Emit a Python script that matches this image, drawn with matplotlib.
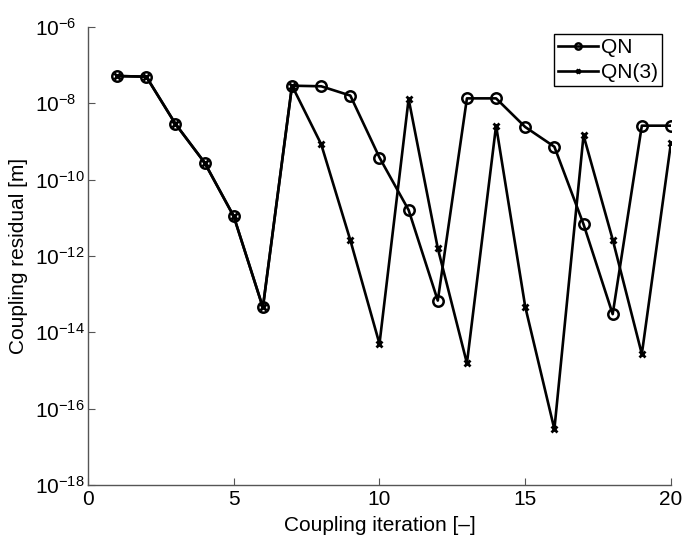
import matplotlib
matplotlib.use("Agg")
import matplotlib.pyplot as plt
from matplotlib.ticker import LogLocator, NullLocator

plt.rcParams['font.family'] = ['Liberation Sans', 'DejaVu Sans']
plt.rcParams['mathtext.fontset'] = 'custom'
plt.rcParams['mathtext.rm'] = 'Liberation Sans'

# coupling residual per iteration
iterations = list(range(1, 21))
res_qn = [5.2e-8, 5.0e-8, 2.9e-9, 2.8e-10, 1.1e-11, 4.5e-14, 2.9e-8, 2.8e-8,
          1.6e-8, 3.8e-10, 1.6e-11, 6.8e-14, 1.35e-8, 1.35e-8, 2.4e-9, 7.3e-10,
          6.8e-12, 3.0e-14, 2.6e-9, 2.6e-9]
res_qn3 = [5.2e-8, 5.0e-8, 2.9e-9, 2.8e-10, 1.1e-11, 4.5e-14, 2.9e-8, 8.5e-10,
           2.6e-12, 5.0e-15, 1.3e-8, 1.6e-12, 1.55e-15, 2.6e-9, 4.7e-14, 2.9e-17,
           1.45e-9, 2.7e-12, 2.7e-15, 9.3e-10]

fig = plt.figure(figsize=(6.83, 5.37), dpi=100)
ax = fig.add_axes([0.1288, 0.0968, 0.8536, 0.8529])

ax.semilogy(iterations, res_qn, '-o', color='black', lw=1.9,
            markersize=7.5, markerfacecolor='none', markeredgewidth=1.8, label='QN')
ax.semilogy(iterations, res_qn3, '-x', color='black', lw=1.9,
            markersize=4.5, markeredgewidth=2, label='QN(3)')

ax.set_xlim(0, 20)
ax.set_ylim(1e-18, 1e-6)
ax.set_xticks([0, 5, 10, 15, 20])
ax.yaxis.set_major_locator(LogLocator(base=100.0, numticks=10))
ax.yaxis.set_minor_locator(NullLocator())

for side in ['top', 'right']:
    ax.spines[side].set_visible(False)
for side in ['left', 'bottom']:
    ax.spines[side].set_color('#555555')
    ax.spines[side].set_linewidth(1.0)
ax.tick_params(direction='in', length=5, color='#555555', labelsize=15)
# decade labels start at a common left edge
ax.tick_params(axis='y', pad=38)
for lbl in ax.get_yticklabels():
    lbl.set_horizontalalignment('left')

ax.set_xlabel('Coupling iteration [\u2013]', fontsize=15, labelpad=5)
ax.set_ylabel('Coupling residual [m]', fontsize=15, labelpad=5)

leg = ax.legend(loc='upper right', bbox_to_anchor=(0.985, 0.985), fontsize=15,
                fancybox=False, framealpha=1, edgecolor='black',
                handlelength=1.9, handletextpad=0.15, borderpad=0.2,
                labelspacing=0.3, borderaxespad=0.0, markerscale=0.6)
leg.get_frame().set_linewidth(1.0)

fig.savefig('out.png', dpi=100)
